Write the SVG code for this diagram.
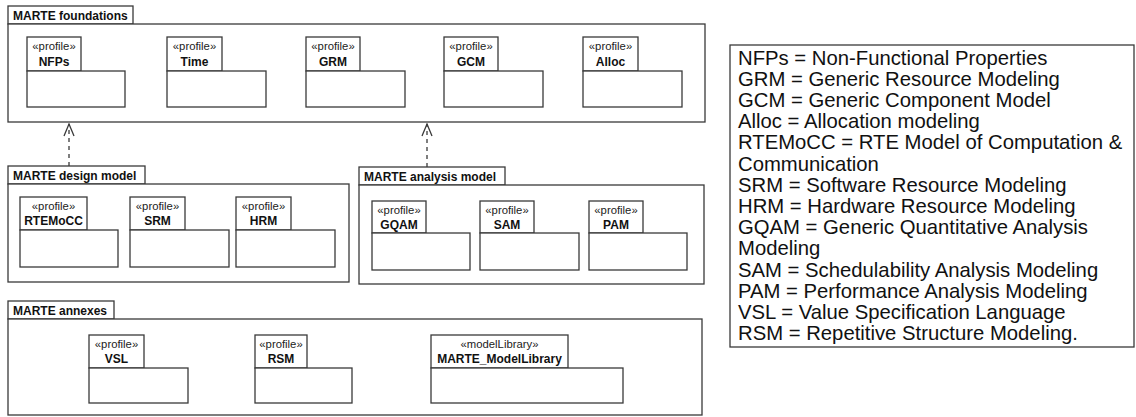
<svg xmlns="http://www.w3.org/2000/svg" width="1136" height="417" viewBox="0 0 1136 417">
<style>
.b{fill:#fff;stroke:#3a3a3a;stroke-width:1.3}
.t{font-family:"Liberation Sans",Arial,sans-serif;font-size:12px;font-weight:bold;fill:#111}
.st{font-family:"Liberation Sans",Arial,sans-serif;font-size:11.3px;fill:#222;text-anchor:middle}
.nm{font-family:"Liberation Sans",Arial,sans-serif;font-size:12px;font-weight:bold;fill:#111;text-anchor:middle}
.lg{font-family:"Liberation Sans",Arial,sans-serif;font-size:20.3px;fill:#111}
.dep{fill:none;stroke:#3a3a3a;stroke-width:1.3;stroke-dasharray:4 4}
</style>
<defs>
<marker id="open" viewBox="0 0 14 12" refX="13" refY="6" markerWidth="14" markerHeight="12" markerUnits="userSpaceOnUse" orient="auto">
<polyline points="1,1 13,6 1,11" fill="none" stroke="#3a3a3a" stroke-width="1.3"/>
</marker>
</defs>
<rect width="1136" height="417" fill="#fff"/>

<g id="foundations">
<rect class="b" x="8" y="6" width="125" height="18"/>
<rect class="b" x="8" y="24" width="697" height="98"/>
<text class="t" x="13" y="20">MARTE foundations</text>
</g>
<g id="NFPs"><rect class="b" x="27" y="37" width="54" height="34"/><rect class="b" x="27" y="71" width="98" height="36"/><text class="st" x="54" y="50">«profile»</text><text class="nm" x="54" y="66">NFPs</text></g>
<g id="Time"><rect class="b" x="167" y="37" width="55" height="34"/><rect class="b" x="167" y="71" width="99" height="36"/><text class="st" x="194.5" y="50">«profile»</text><text class="nm" x="194.5" y="66">Time</text></g>
<g id="GRM"><rect class="b" x="306" y="37" width="54" height="34"/><rect class="b" x="306" y="71" width="99" height="36"/><text class="st" x="333" y="50">«profile»</text><text class="nm" x="333" y="66">GRM</text></g>
<g id="GCM"><rect class="b" x="444" y="37" width="54" height="34"/><rect class="b" x="444" y="71" width="99" height="36"/><text class="st" x="471" y="50">«profile»</text><text class="nm" x="471" y="66">GCM</text></g>
<g id="Alloc"><rect class="b" x="583" y="37" width="55" height="34"/><rect class="b" x="583" y="71" width="99" height="36"/><text class="st" x="610.5" y="50">«profile»</text><text class="nm" x="610.5" y="66">Alloc</text></g>

<g id="design">
<rect class="b" x="8" y="166" width="137" height="18"/>
<rect class="b" x="8" y="184" width="341" height="98"/>
<text class="t" x="13" y="180">MARTE design model</text>
</g>
<g id="RTEMoCC"><rect class="b" x="20" y="197" width="67" height="33"/><rect class="b" x="20" y="230" width="98" height="37"/><text class="st" x="53.5" y="210">«profile»</text><text class="nm" x="53.5" y="225">RTEMoCC</text></g>
<g id="SRM"><rect class="b" x="130" y="197" width="55" height="33"/><rect class="b" x="130" y="230" width="99" height="37"/><text class="st" x="157.5" y="210">«profile»</text><text class="nm" x="157.5" y="225">SRM</text></g>
<g id="HRM"><rect class="b" x="236" y="197" width="55" height="33"/><rect class="b" x="236" y="230" width="99" height="37"/><text class="st" x="263.5" y="210">«profile»</text><text class="nm" x="263.5" y="225">HRM</text></g>

<g id="analysis">
<rect class="b" x="359" y="167" width="146" height="18"/>
<rect class="b" x="359" y="185" width="345" height="99"/>
<text class="t" x="364" y="181">MARTE analysis model</text>
</g>
<g id="GQAM"><rect class="b" x="372" y="201" width="54" height="32"/><rect class="b" x="372" y="233" width="98" height="37"/><text class="st" x="399" y="214">«profile»</text><text class="nm" x="399" y="229">GQAM</text></g>
<g id="SAM"><rect class="b" x="480" y="201" width="54" height="32"/><rect class="b" x="480" y="233" width="99" height="37"/><text class="st" x="507" y="214">«profile»</text><text class="nm" x="507" y="229">SAM</text></g>
<g id="PAM"><rect class="b" x="589" y="201" width="54" height="32"/><rect class="b" x="589" y="233" width="98" height="37"/><text class="st" x="616" y="214">«profile»</text><text class="nm" x="616" y="229">PAM</text></g>

<g id="annexes">
<rect class="b" x="8" y="301" width="106" height="18"/>
<rect class="b" x="8" y="319" width="694" height="96"/>
<text class="t" x="13" y="315">MARTE annexes</text>
</g>
<g id="VSL"><rect class="b" x="89" y="335" width="55" height="33"/><rect class="b" x="89" y="368" width="99" height="35"/><text class="st" x="116.5" y="348">«profile»</text><text class="nm" x="116.5" y="363">VSL</text></g>
<g id="RSM"><rect class="b" x="255" y="335" width="52" height="33"/><rect class="b" x="255" y="368" width="97" height="35"/><text class="st" x="281" y="348">«profile»</text><text class="nm" x="281" y="363">RSM</text></g>
<g id="MARTE_ModelLibrary"><rect class="b" x="431" y="335" width="137" height="33"/><rect class="b" x="431" y="368" width="192" height="35"/><text class="st" x="499.5" y="348">«modelLibrary»</text><text class="nm" x="499.5" y="363">MARTE_ModelLibrary</text></g>

<g id="connectors">
<line class="dep" x1="69" y1="166" x2="69" y2="124" marker-end="url(#open)"/>
<line class="dep" x1="427" y1="167" x2="427" y2="124" marker-end="url(#open)"/>
</g>

<g id="legend">
<rect class="b" x="730" y="45" width="404" height="302"/>
<text class="lg" x="738" y="64.5">NFPs = Non-Functional Properties</text>
<text class="lg" x="738" y="85.7">GRM = Generic Resource Modeling</text>
<text class="lg" x="738" y="106.9">GCM = Generic Component Model</text>
<text class="lg" x="738" y="128.1">Alloc = Allocation modeling</text>
<text class="lg" x="738" y="149.3">RTEMoCC = RTE Model of Computation &amp;</text>
<text class="lg" x="738" y="170.5">Communication</text>
<text class="lg" x="738" y="191.7">SRM = Software Resource Modeling</text>
<text class="lg" x="738" y="212.9">HRM = Hardware Resource Modeling</text>
<text class="lg" x="738" y="234.1">GQAM = Generic Quantitative Analysis</text>
<text class="lg" x="738" y="255.3">Modeling</text>
<text class="lg" x="738" y="276.5">SAM = Schedulability Analysis Modeling</text>
<text class="lg" x="738" y="297.7">PAM = Performance Analysis Modeling</text>
<text class="lg" x="738" y="318.9">VSL = Value Specification Language</text>
<text class="lg" x="738" y="340.1">RSM = Repetitive Structure Modeling.</text>
</g>
</svg>
